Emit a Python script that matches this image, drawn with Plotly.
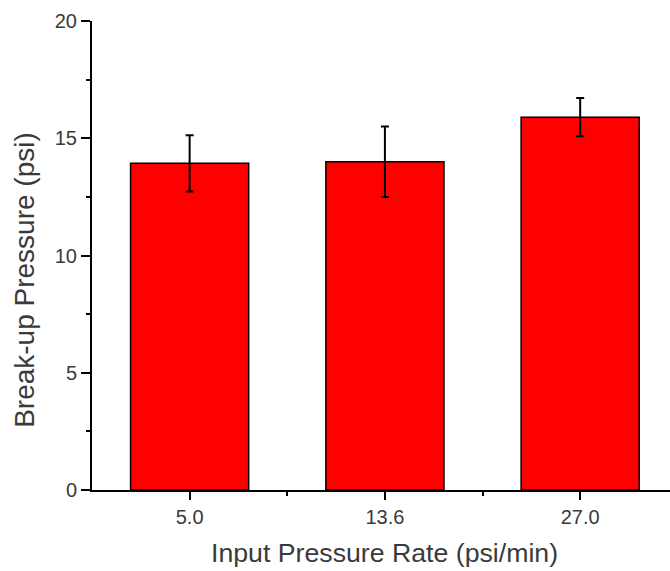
import plotly.graph_objects as go

categories = ["5.0", "13.6", "27.0"]
values = [13.93, 14.0, 15.9]
errors = [1.2, 1.5, 0.82]
positions = [0, 1, 2]

fig = go.Figure()
fig.add_trace(go.Bar(
    x=positions, y=values,
    width=0.605,
    marker=dict(color="#ff0000", line=dict(color="black", width=1.5)),
    error_y=dict(type="data", array=errors, visible=True, color="black", thickness=2, width=4),
))

txt = "#3a3a3a"
fig.update_layout(
    width=670, height=571,
    margin=dict(l=92, r=0, t=21, b=81),
    plot_bgcolor="white", paper_bgcolor="white",
    showlegend=False,
    font=dict(family="Liberation Sans, Arial, sans-serif", color=txt),
    xaxis=dict(
        range=[-0.5, 2.46], tickmode="array", tickvals=positions, ticktext=categories,
        showline=True, linecolor="black", linewidth=2, ticks="outside", ticklen=8, tickwidth=2,
        tickcolor="black", showgrid=False, zeroline=False,
        tickfont=dict(size=20, color=txt),
        minor=dict(tickmode="array", tickvals=[0.5, 1.5], ticks="outside", ticklen=4, tickwidth=2, tickcolor="black"),
    ),
    yaxis=dict(
        range=[0, 20], tickvals=[0, 5, 10, 15, 20],
        showline=True, linecolor="black", linewidth=2, ticks="outside", ticklen=9, tickwidth=2,
        tickcolor="black", showgrid=False, zeroline=False,
        tickfont=dict(size=20, color=txt),
        minor=dict(tickvals=[2.5, 7.5, 12.5, 17.5], ticks="outside", ticklen=4, tickwidth=2, tickcolor="black"),
    ),
    annotations=[
        dict(text="Break-up Pressure (psi)", textangle=-90, xref="paper", yref="paper",
             x=0, y=0.447, xanchor="center", yanchor="middle", xshift=-67.5, showarrow=False,
             font=dict(size=28, color=txt)),
        dict(text="Input Pressure Rate (psi/min)", xref="paper", yref="paper",
             x=0.5, y=0, xanchor="center", yanchor="middle", yshift=-62.5, xshift=3, showarrow=False,
             font=dict(size=26.7, color=txt)),
    ],
)

fig.write_html("out.html")
